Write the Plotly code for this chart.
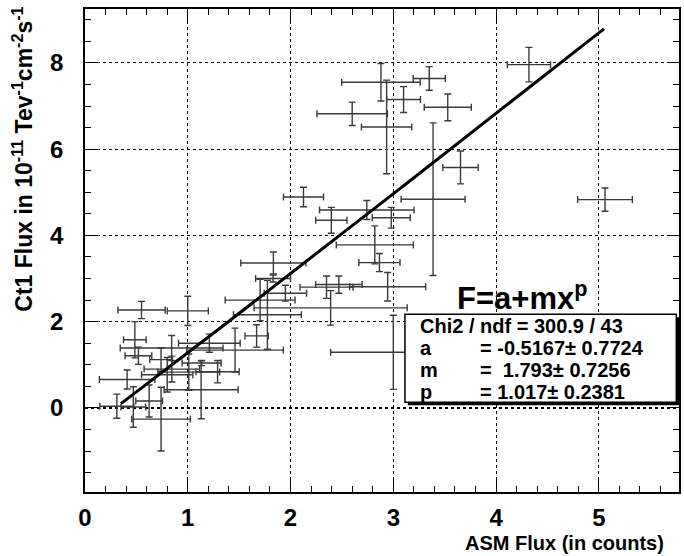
import numpy as np
import plotly.graph_objects as go

# ---- data ----
asm_flux = [2.88, 2.935, 3.10, 3.35, 3.53, 2.60, 3.387, 3.654, 5.06, 4.32,
            2.126, 2.397, 2.742, 2.98, 2.82, 2.865, 1.833, 1.704, 1.775, 1.83,
            1.95, 2.39, 2.35, 2.47, 2.945, 3.00,
            1.00, 0.55, 0.485, 0.843, 1.46, 1.67, 1.21, 0.74, 1.13, 0.52,
            0.41, 0.31, 0.47, 0.624, 1.29, 1.135, 0.74, 1.01, 0.845, 0.80]
asm_err = [0.382, 0.245, 0.164, 0.156, 0.229, 0.343, 0.311, 0.172, 0.266, 0.21,
           0.195, 0.152, 0.46, 0.185, 0.375, 0.20, 0.317, 0.34, 0.33, 0.17,
           0.206, 0.745, 0.258, 0.226, 0.37, 0.61,
           0.20, 0.23, 0.11, 0.50, 0.47, 0.113, 0.30, 0.285, 0.36, 0.13,
           0.27, 0.165, 0.12, 0.13, 0.21, 0.19, 0.11, 0.30, 0.27, 0.25]
ct1_flux = [7.55, 6.515, 7.15, 7.64, 6.97, 6.82, 4.84, 5.575, 4.83, 7.96,
            4.89, 4.35, 4.59, 4.41, 3.78, 3.37, 3.36, 2.50, 2.16, 3.00,
            2.66, 2.32, 2.80, 2.86, 2.81, 1.29,
            2.25, 2.27, 1.58, 1.39, 1.34, 1.67, 1.50, -0.26, 0.42, 1.21,
            0.66, 0.04, 0.02, 0.16, 0.84, 1.04, 1.12, 0.83, 0.90, 0.77]
ct1_err = [0.435, 1.085, 0.30, 0.273, 0.31, 0.27, 1.77, 0.381, 0.27, 0.40,
           0.227, 0.30, 0.22, 0.24, 0.44, 0.21, 0.254, 0.48, 0.80, 0.08,
           0.185, 0.40, 0.26, 0.20, 0.33, 0.86,
           0.34, 0.20, 0.42, 0.29, 0.51, 0.26, 0.21, 0.74, 0.67, 0.20,
           0.22, 0.28, 0.47, 0.37, 0.26, 0.06, 0.27, 0.42, 0.30, 0.40]

# fit result  F = a + m x^p
fit_a, fit_m, fit_p = -0.5167, 1.793, 1.017
fit_xmin, fit_xmax = 0.35, 5.05

x_ticks = [0, 1, 2, 3, 4, 5]
y_ticks = [0, 2, 4, 6, 8]
x_range = [0, 5.78]
y_range = [-1.95, 9.25]

stats_labels = ["a", "m", "p"]
stats_values = ["= -0.5167\u00b1 0.7724", "=  1.793\u00b1 0.7256", "= 1.017\u00b1 0.2381"]
chi2_text = "Chi2 / ndf = 300.9 / 43"

FONT = "Liberation Sans, Arial, Helvetica, sans-serif"

fig = go.Figure()

fig.add_trace(go.Scatter(
    x=asm_flux, y=ct1_flux, mode="markers",
    marker=dict(size=1, color="rgba(0,0,0,0)"),
    error_x=dict(type="data", array=asm_err, visible=True, color="#3a3a3a", thickness=1.4, width=3.5),
    error_y=dict(type="data", array=ct1_err, visible=True, color="#3a3a3a", thickness=1.4, width=3.5),
    showlegend=False, hoverinfo="skip"))

fx = np.linspace(fit_xmin, fit_xmax, 60)
fy = fit_a + fit_m * fx ** fit_p
fig.add_trace(go.Scatter(x=fx, y=fy, mode="lines", line=dict(color="black", width=3),
                         showlegend=False, hoverinfo="skip"))

axis_common = dict(
    showline=True, linecolor="black", linewidth=1.5, mirror="ticks",
    ticks="inside", tickcolor="black", tickwidth=1.2, ticklen=12,
    showgrid=True, gridcolor="black", griddash="dot", gridwidth=1,
    zeroline=False,
    tickfont=dict(family=FONT, size=24, color="black", weight="bold"),
)

fig.update_xaxes(range=x_range, tickvals=x_ticks, ticktext=[str(v) for v in x_ticks],
                 minor=dict(dtick=0.2, ticklen=6, tickcolor="black", ticks="inside", showgrid=False),
                 ticklabelstandoff=3, **axis_common)
fig.update_yaxes(range=y_range, tickvals=y_ticks, ticktext=[str(v) for v in y_ticks],
                 minor=dict(dtick=0.5, ticklen=6, tickcolor="black", ticks="inside", showgrid=False),
                 ticklabelstandoff=15, **axis_common)

# thicker dotted line at y = 0
fig.add_shape(type="line", xref="paper", yref="y", x0=0, x1=1, y0=0, y1=0,
              line=dict(color="black", width=2, dash="dot"), layer="below")

# stats box (shadow + box)
fig.add_shape(type="rect", xref="paper", yref="paper", x0=0.5436, x1=1.0005, y0=0.1795, y1=0.3617,
              fillcolor="black", line=dict(width=0))
fig.add_shape(type="rect", xref="paper", yref="paper", x0=0.5386, x1=0.9955, y0=0.1857, y1=0.3679,
              fillcolor="white", line=dict(color="black", width=1.5))

def px_to_paper_x(px):
    return (px - 85) / 596

def px_to_paper_y(py):
    return (492 - py) / 483

sfont = dict(family=FONT, size=20, color="black", weight="bold")
fig.add_annotation(text=chi2_text, xref="paper", yref="paper", x=px_to_paper_x(419), y=px_to_paper_y(326),
                   xanchor="left", yanchor="middle", showarrow=False, font=sfont)
for i, (lab, val) in enumerate(zip(stats_labels, stats_values)):
    yy = px_to_paper_y(347.7 + i * 21.9)
    fig.add_annotation(text=lab, xref="paper", yref="paper", x=px_to_paper_x(419), y=yy,
                       xanchor="left", yanchor="middle", showarrow=False, font=sfont)
    fig.add_annotation(text=val, xref="paper", yref="paper", x=px_to_paper_x(479), y=yy,
                       xanchor="left", yanchor="middle", showarrow=False, font=sfont)

# formula label
fig.add_annotation(text="F=a+mx<sup>p</sup>", xref="paper", yref="paper",
                   x=px_to_paper_x(456), y=px_to_paper_y(296), xanchor="left", yanchor="middle",
                   showarrow=False, font=dict(family=FONT, size=31, color="black", weight="bold"))

# axis titles
fig.add_annotation(text="ASM Flux (in counts)", xref="paper", yref="paper",
                   x=px_to_paper_x(668), y=px_to_paper_y(543), xanchor="right", yanchor="middle",
                   showarrow=False, font=dict(family=FONT, size=20, color="black", weight="bold"))
fig.add_annotation(text="Ct1 Flux in 10<sup>-11</sup> Tev<sup>-1</sup>cm<sup>-2</sup>s<sup>-1</sup>",
                   xref="paper", yref="paper", textangle=-90,
                   x=px_to_paper_x(22), y=px_to_paper_y(5), xanchor="center", yanchor="top",
                   showarrow=False, font=dict(family=FONT, size=23, color="black", weight="bold"))

fig.update_layout(width=684, height=556, margin=dict(l=85, r=3, t=9, b=64),
                  paper_bgcolor="white", plot_bgcolor="white")

fig.write_html("out.html")
